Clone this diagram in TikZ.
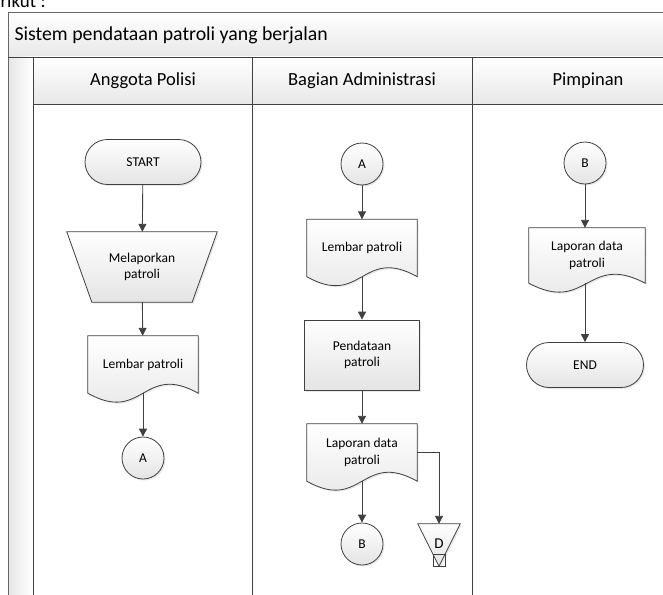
\documentclass[tikz,border=0pt]{standalone}
\usepackage{fontspec}
\setmainfont{Carlito}
\usetikzlibrary{arrows.meta,shadows,calc}
\definecolor{lc}{HTML}{404040}
\definecolor{fillb}{HTML}{E4E4E4}
\definecolor{hdr}{HTML}{E8E8E8}
\definecolor{strip}{HTML}{E6E6E6}
\pgfdeclarelayer{frame}
\pgfdeclarelayer{bg}
\pgfsetlayers{frame,bg,main}
\newcommand\docpath[1]{%
  \path[shp] (#1.north west) -- (#1.north east) -- (#1.south east)
    .. controls ($(#1.south)+(0,-31)$) and ($(#1.south)+(0,31)$) .. (#1.south west) -- cycle;}
\begin{document}
\begin{tikzpicture}[x=1pt,y=-1pt,
  line/.style={draw=lc, line width=0.9pt},
  arr/.style={line, -{Triangle[length=8pt,width=8pt]}},
  shp/.style={draw=lc, line width=0.8pt, top color=white, bottom color=fillb,
    drop shadow={shadow xshift=1.5pt,shadow yshift=-1.5pt,opacity=0.18}},
  box/.style={inner sep=0pt, font=\fontsize{13.5}{16.5}\selectfont, align=center},
  term/.style={box, shp, rounded corners=22.5pt, minimum width=116pt, minimum height=45pt},
  conn/.style={box, shp, circle, minimum size=42pt},
  proc/.style={box, shp, minimum width=115pt, minimum height=70pt},
  ghost/.style={box, minimum width=110pt, minimum height=57pt},
  lanetext/.style={font=\fontsize{18.5}{21}\selectfont, text=black},
]
\useasboundingbox (0,0) rectangle (663,594);

% ---------- swimlane frame ----------
\begin{pgfonlayer}{frame}
  \fill[white] (0,0) rectangle (663,594);
  \fill[top color=white, bottom color=hdr] (8,12) rectangle (700,57);
  \fill[top color=white, bottom color=hdr] (33,57) rectangle (700,104);
  \fill[left color=strip, right color=white] (8,57) rectangle (33,600);
  \draw[draw=lc!80, line width=0.9pt] (8,600) -- (8,12) -- (700,12);
  \draw[line] (8,57) -- (700,57);
  \draw[line] (33,104) -- (700,104);
  \draw[line] (33,57) -- (33,600);
  \draw[line] (252,57) -- (252,600);
  \draw[line] (472,57) -- (472,600);
\end{pgfonlayer}

\node[anchor=base west, font=\fontsize{19}{22}\selectfont] (top) at (-3,7.5) {rikut :};
\node[lanetext, anchor=west, font=\fontsize{19.8}{22}\selectfont] (title) at (11,35) {Sistem pendataan patroli yang berjalan};
\node[lanetext] (h1) at (143,81) {Anggota Polisi};
\node[lanetext] (h2) at (362,81) {Bagian Administrasi};
\node[lanetext] (h3) at (588,81) {Pimpinan};

% ---------- lane 1 ----------
\node[term] (start) at (143,162) {START};
\node[box, minimum width=150pt, minimum height=70pt] (mel) at (142,267) {Melaporkan\\patroli};
\node[ghost] (lp1) at (143,364.5) {Lembar patroli};
\node[conn] (a1) at (143,458) {A};

% ---------- lane 2 ----------
\node[conn] (a2) at (362,164) {A};
\node[ghost] (lp2) at (362,248) {Lembar patroli};
\node[proc] (pd) at (362,355) {Pendataan\\patroli};
\node[ghost] (lap2) at (362,452.5) {Laporan data\\patroli};
\node[conn] (b2) at (362,544) {B};
\node[box, minimum width=42pt, minimum height=42pt] (dtri) at (439,545) {};
\node[box, font=\fontsize{15}{16}\selectfont] (dlab) at (439,544) {D};

% ---------- lane 3 ----------
\node[conn] (b3) at (585,163) {B};
\node[box, minimum width=116pt, minimum height=55pt] (lap3) at (587,255.5) {Laporan data\\patroli};
\node[term, minimum width=117pt] (endn) at (585,365) {END};

\begin{pgfonlayer}{bg}
  \path[shp] (mel.north west) -- (mel.north east) -- ([xshift=-25pt]mel.south east)
     -- ([xshift=25pt]mel.south west) -- cycle;
  \docpath{lp1}
  \docpath{lp2}
  \docpath{lap2}
  \docpath{lap3}
  \path[shp] (dtri.north west) -- (dtri.north east) -- (dtri.south) -- cycle;
  \draw[draw=lc, line width=0.7pt] ([xshift=-6pt,yshift=12pt]dtri.south) rectangle ([xshift=6pt]dtri.south);
\end{pgfonlayer}

% ---------- connectors ----------
\draw[arr] (start) -- (mel);
\draw[arr] (mel) -- (lp1);
\draw[arr] (lp1.south) -- (a1);
\draw[arr] (a2) -- (lp2);
\draw[arr] (lp2.south) -- (pd);
\draw[arr] (pd) -- (lap2);
\draw[arr] (lap2.south) -- (b2);
\draw[arr] (lap2.east) -| (dtri.north);
\draw[arr] (b3) -- (lap3.north -| b3);
\draw[arr] (lap3.south -| endn) -- (endn);
\end{tikzpicture}
\end{document}
